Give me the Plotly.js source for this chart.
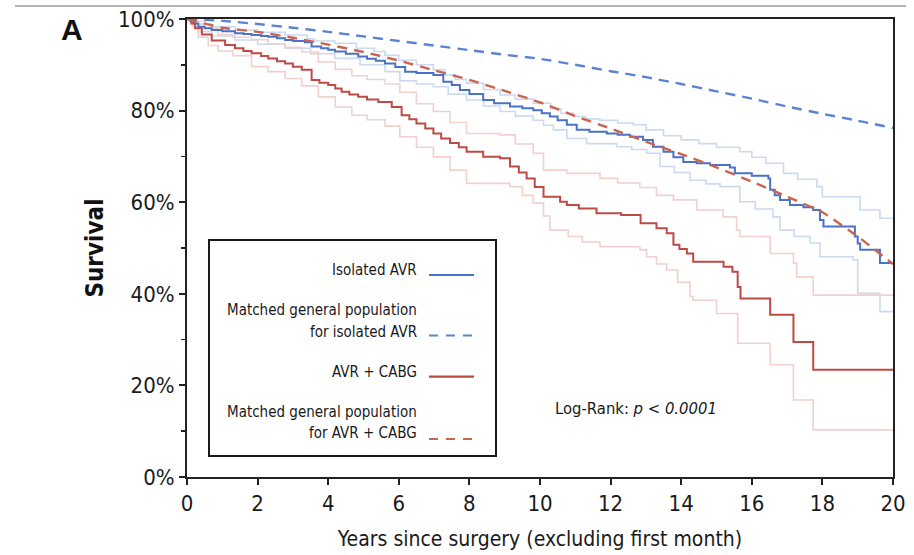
<!DOCTYPE html>
<html>
<head>
<meta charset="utf-8">
<script src="https://cdn.plot.ly/plotly-3.0.1.min.js"></script>
<style>
  html, body { margin: 0; padding: 0; background: #fff; }
  #chart { width: 914px; height: 555px; }
</style>
</head>
<body>
<div id="chart"></div>
<script>
// Kaplan-Meier survival, [years, survival %]
const isolatedAVR = [[0,100],[0.1,99.5],[0.2,99.0],[0.32,98.3],[0.5,98.0],[0.7,97.6],[1.0,97.3],[1.36,96.9],[1.6,96.7],[1.83,96.5],[2.1,96.3],[2.3,96.1],[2.55,95.8],[2.78,95.4],[3.0,95.2],[3.34,94.9],[3.53,94.0],[3.8,93.6],[4.0,93.3],[4.19,92.9],[4.5,92.4],[4.85,91.8],[5.1,91.3],[5.35,90.9],[5.61,90.3],[5.9,89.5],[6.18,88.5],[6.5,88.2],[6.98,87.8],[7.26,86.3],[7.5,85.6],[7.73,84.5],[8.0,83.6],[8.39,82.3],[8.7,81.6],[9.15,80.9],[9.5,80.5],[9.81,80.1],[10.05,79.4],[10.28,78.7],[10.5,77.9],[10.76,76.9],[11.04,75.8],[11.4,75.4],[11.89,75.0],[12.2,74.7],[12.55,74.3],[12.92,73.6],[13.2,72.1],[13.5,71.0],[13.78,69.8],[14.06,68.8],[14.44,68.5],[14.82,68.1],[15.38,67.6],[15.52,66.3],[16.0,65.8],[16.47,65.2],[16.52,62.7],[16.65,61.5],[16.8,60.5],[17.08,59.4],[17.46,58.9],[17.74,58.3],[17.93,56.1],[18.03,54.7],[18.92,52.5],[19.0,51.0],[19.07,49.6],[19.63,46.7],[20,46.7]];
const isolatedAVRUpper = [[0,100],[0.15,99.6],[0.32,98.9],[0.7,98.3],[1.36,97.6],[2.0,97.1],[2.78,96.5],[3.4,95.7],[3.6,95.2],[4.19,94.7],[4.8,93.6],[5.3,92.9],[5.61,92.1],[6.0,91.0],[6.5,90.0],[6.98,88.9],[7.3,87.8],[7.6,86.8],[7.92,86.0],[8.4,84.6],[8.87,83.4],[9.3,82.5],[9.81,81.6],[10.3,80.4],[10.6,79.4],[10.95,78.7],[11.3,78.2],[11.7,77.9],[12.2,77.3],[12.64,76.9],[13.0,75.8],[13.5,74.5],[14.0,73.6],[14.5,72.8],[15.0,72.0],[15.66,71.0],[16.0,69.8],[16.4,68.5],[16.9,66.3],[17.3,65.0],[17.84,63.4],[18.0,61.2],[19.07,58.3],[19.63,56.5],[20,56.5]];
const isolatedAVRLower = [[0,100],[0.1,99.0],[0.32,97.2],[0.7,96.3],[1.36,95.4],[2.0,94.5],[2.78,93.6],[3.5,92.4],[4.19,91.4],[4.9,90.0],[5.61,88.5],[6.03,86.5],[6.5,85.8],[6.98,85.2],[7.4,83.6],[7.92,82.3],[8.4,81.0],[8.87,79.8],[9.3,78.8],[9.81,77.9],[10.1,76.8],[10.38,75.8],[10.76,73.9],[11.32,72.8],[12.17,72.1],[12.6,71.5],[13.02,70.7],[13.4,67.8],[13.8,66.5],[14.25,64.8],[14.7,64.0],[15.1,63.4],[15.66,60.1],[16.1,58.5],[16.6,56.8],[16.8,53.9],[17.2,52.5],[17.65,51.1],[17.93,48.1],[18.87,47.4],[19.0,40.1],[19.63,36.1],[20,36.1]];

const avrCabg = [[0,100],[0.13,99.0],[0.23,98.0],[0.42,96.6],[0.7,95.3],[1.08,94.3],[1.36,93.6],[1.6,93.0],[1.83,92.5],[2.1,91.9],[2.3,91.4],[2.55,90.8],[2.78,90.3],[3.0,89.6],[3.25,88.9],[3.53,86.7],[3.75,86.1],[4.0,85.6],[4.2,84.8],[4.38,84.1],[4.6,83.5],[4.85,83.0],[5.1,82.4],[5.42,81.9],[5.8,80.8],[6.08,79.0],[6.3,78.1],[6.5,77.2],[6.75,76.1],[6.98,75.0],[7.2,73.9],[7.45,72.9],[7.7,72.0],[7.92,71.0],[8.39,69.9],[8.87,69.6],[9.15,67.8],[9.4,66.5],[9.62,65.2],[9.85,63.3],[10.1,61.2],[10.57,60.1],[10.76,59.4],[11.1,58.6],[11.6,57.6],[12.3,57.2],[12.85,55.4],[13.3,54.3],[13.59,53.2],[13.78,50.7],[13.95,49.8],[14.16,48.8],[14.34,47.0],[15.2,45.9],[15.45,44.8],[15.6,41.5],[15.68,39.0],[16.52,35.4],[17.18,29.5],[17.74,23.4],[20,23.4]];
const avrCabgUpper = [[0,100],[0.2,99.5],[0.5,98.0],[0.88,96.6],[1.3,96.0],[1.83,95.5],[2.3,94.6],[2.78,93.8],[3.25,92.8],[3.72,90.6],[4.2,89.0],[4.67,87.6],[5.1,86.8],[5.61,85.8],[6.03,84.0],[6.5,81.5],[6.98,79.8],[7.45,77.4],[7.92,75.0],[8.87,74.7],[9.3,72.7],[9.81,70.7],[10.1,67.0],[10.76,66.3],[11.7,65.2],[12.2,64.2],[12.83,63.2],[13.3,61.5],[13.78,60.5],[14.44,58.3],[15.19,56.8],[15.57,53.9],[15.66,52.5],[16.52,48.8],[17.18,46.7],[17.27,43.7],[17.74,39.7],[20,39.7]];
const avrCabgLower = [[0,100],[0.15,98.3],[0.32,96.0],[0.6,94.2],[0.88,93.0],[1.3,92.0],[1.83,89.6],[2.3,88.5],[2.78,87.0],[3.25,85.4],[3.72,83.0],[4.2,80.8],[4.67,79.0],[5.1,78.0],[5.61,76.6],[6.03,74.3],[6.5,72.0],[6.98,69.9],[7.45,67.0],[7.92,64.1],[9.15,63.4],[9.5,61.5],[9.81,59.8],[10.1,57.0],[10.28,53.9],[10.8,52.5],[11.2,51.3],[11.7,50.3],[12.83,49.6],[13.02,48.1],[13.3,46.5],[13.59,45.2],[13.9,42.5],[14.25,39.4],[14.34,38.6],[15.0,35.7],[15.6,29.2],[16.52,24.5],[17.18,16.8],[17.74,10.3],[20,10.3]];

// Expected survival of the matched general populations
const popYears = [0,1,2,3,4,5,6,7,8,9,10,11,12,13,14,15,16,17,18,19,20];
const popIsolatedAVR = [100,99.6,98.9,98.1,97.2,96.2,95.2,94.2,93.2,92.2,91.3,90.0,88.6,87.3,85.8,84.2,82.6,80.9,79.3,77.8,76.2];
const popAvrCabg = [100,98.1,97.2,95.9,94.4,92.8,90.9,88.8,86.7,84.3,81.8,78.8,76.1,73.2,70.5,67.6,64.5,61.2,57.8,52.5,46.5];

const xTicks = [0,2,4,6,8,10,12,14,16,18,20];
const yTicks = [0,20,40,60,80,100];
const yTickText = ['0%','20%','40%','60%','80%','100%'];

const legendLabels = [
  ['Isolated AVR'],
  ['Matched general population', 'for isolated AVR'],
  ['AVR + CABG'],
  ['Matched general population', 'for AVR + CABG']
];

const BLUE = '#4a72c6';
const BLUE_DASH = '#5a84d0';
const BLUE_CI = '#cbd9f1';
const RED = '#bd4a44';
const RED_DASH = '#c9654f';
const RED_CI = '#f1d0cd';
const DASH = '10px,7px';
const FONT = '"DejaVu Sans Condensed", "Liberation Sans", sans-serif';
const INK = '#1a1a1a';

function stepTrace(pairs, color, width) {
  return {
    x: pairs.map(p => p[0]),
    y: pairs.map(p => p[1]),
    type: 'scatter', mode: 'lines',
    line: { shape: 'hv', color: color, width: width },
    showlegend: false, hoverinfo: 'skip'
  };
}
function smoothTrace(ys, color) {
  return {
    x: popYears, y: ys, type: 'scatter', mode: 'lines',
    line: { shape: 'spline', smoothing: 0.6, color: color, width: 2.4, dash: DASH },
    showlegend: false, hoverinfo: 'skip'
  };
}

const traces = [
  stepTrace(isolatedAVRUpper, BLUE_CI, 1.6),
  stepTrace(isolatedAVRLower, BLUE_CI, 1.6),
  stepTrace(avrCabgUpper, RED_CI, 1.6),
  stepTrace(avrCabgLower, RED_CI, 1.6),
  smoothTrace(popIsolatedAVR, BLUE_DASH),
  stepTrace(isolatedAVR, BLUE, 2),
  stepTrace(avrCabg, RED, 2),
  smoothTrace(popAvrCabg, RED_DASH)
];

// plot-area pixel helpers for the legend panel and labels
const L = 187, R = 893, T = 19, B = 477;
const px = v => (v - L) / (R - L);
const py = v => (B - v) / (B - T);

const textFont = { family: FONT, size: 15, color: INK };
const annotations = [];
const shapes = [];

// legend panel
shapes.push({ type: 'rect', xref: 'paper', yref: 'paper',
  x0: px(209), x1: px(496), y0: py(456), y1: py(240),
  line: { color: INK, width: 2 }, fillcolor: 'rgba(255,255,255,0)' });

const legendRows = [
  { lines: [269.5], sample: 275, color: BLUE, dash: 'solid' },
  { lines: [310, 331.7], sample: 335.5, color: BLUE_DASH, dash: '9px,8px' },
  { lines: [371.7], sample: 376.7, color: RED, dash: 'solid' },
  { lines: [411.7, 433], sample: 439, color: RED_DASH, dash: '9px,8px' }
];
legendRows.forEach((row, i) => {
  legendLabels[i].forEach((txt, j) => {
    annotations.push({ xref: 'paper', yref: 'paper', x: px(419), y: py(row.lines[j]),
      xanchor: 'right', yanchor: 'middle', text: txt, showarrow: false, font: textFont });
  });
  shapes.push({ type: 'line', xref: 'paper', yref: 'paper',
    x0: px(429), x1: px(474), y0: py(row.sample), y1: py(row.sample),
    line: { color: row.color, width: 2.2, dash: row.dash } });
});

annotations.push({ xref: 'paper', yref: 'paper', x: px(553), y: py(408),
  xanchor: 'left', yanchor: 'middle', showarrow: false,
  font: { family: FONT, size: 16.5, color: INK },
  text: 'Log-Rank: <i>p &lt; 0.0001</i>' });

annotations.push({ xref: 'paper', yref: 'paper', x: px(72), y: py(29),
  xanchor: 'center', yanchor: 'middle', showarrow: false,
  font: { family: 'Liberation Sans, Arial, sans-serif', size: 30, color: '#111' },
  text: '<b>A</b>' });

// rule across the top of the figure
shapes.push({ type: 'line', xref: 'paper', yref: 'paper',
  x0: px(15), x1: px(906), y0: py(6), y1: py(6),
  line: { color: '#9a9a9a', width: 1.5 } });

const layout = {
  width: 914, height: 555,
  margin: { l: L, r: 914 - R, t: T, b: 555 - B, pad: 0 },
  paper_bgcolor: '#fff', plot_bgcolor: '#fff',
  showlegend: false,
  font: { family: FONT, color: INK },
  xaxis: {
    range: [0, 20], tickvals: xTicks, ticktext: xTicks.map(String),
    ticks: 'outside', ticklen: 6, tickwidth: 2, tickcolor: '#222',
    showline: true, linecolor: '#222', linewidth: 2, mirror: true,
    showgrid: false, zeroline: false,
    tickfont: { family: FONT, size: 22, color: INK },
    title: { text: 'Years since surgery (excluding first month)', standoff: 16,
      font: { family: FONT, size: 21, color: INK } }
  },
  yaxis: {
    range: [0, 100], tickvals: yTicks, ticktext: yTickText,
    ticks: 'outside', ticklen: 6, tickwidth: 2, tickcolor: '#222',
    minor: { tickvals: [10,30,50,70,90], ticks: 'outside', ticklen: 4, tickwidth: 1.5, tickcolor: '#222' },
    showline: true, linecolor: '#222', linewidth: 2, mirror: true,
    showgrid: false, zeroline: false,
    tickfont: { family: FONT, size: 22, color: INK },
    title: { text: '<b>Survival</b>', standoff: 8,
      font: { family: FONT, size: 24, color: '#111' } }
  },
  shapes: shapes,
  annotations: annotations
};

Plotly.newPlot('chart', traces, layout, { staticPlot: true, displayModeBar: false });
</script>
</body>
</html>
